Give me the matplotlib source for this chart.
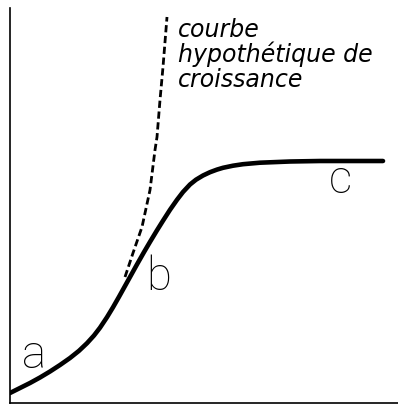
import matplotlib
matplotlib.use("Agg")
import matplotlib.pyplot as plt

# courbe reelle (logistique)
temps = [0, 10, 20, 30, 40, 50, 60, 69, 77, 84, 90, 97, 103, 109, 115, 121,
         127, 134, 140, 147, 153, 160, 167, 173, 180, 186, 193, 200, 207,
         213, 223, 233, 250, 280, 310, 340, 373]
effectif = [10, 15, 20, 25.5, 31.5, 38, 45, 52.2, 59.8, 67.5, 75.3, 85.8,
            95.7, 106.2, 117, 127.8, 138.6, 150.9, 161.1, 172.7, 182.3,
            193.2, 203.2, 211, 218.5, 223.3, 227.5, 230.8, 233.4, 235.2,
            237.3, 238.8, 240.3, 241.5, 242, 242, 242]

# courbe hypothetique (exponentielle)
temps_hyp = [115, 123, 132, 140, 145, 147, 150, 153, 157]
effectif_hyp = [126, 150, 176, 213, 253, 266, 303, 336, 386]

lettres = ["a", "b", "c"]
pos_lettres = [(12, 35), (136, 113), (319, 210)]

legende = ["courbe", "hypothétique de", "croissance"]

fig = plt.figure(figsize=(3.98, 4.07), dpi=100)
ax = fig.add_axes([10 / 398, 4 / 407, 388 / 398, 395 / 407])

ax.plot(temps, effectif, color="black", lw=3.3, solid_capstyle="round",
        solid_joinstyle="round")
ax.plot(temps_hyp, effectif_hyp, color="black", lw=2.0, dashes=(2.6, 1.3))

for txt, (x, y) in zip(lettres, pos_lettres):
    ax.text(x, y, txt, fontsize=33, fontweight="light",
            family=["Roboto", "DejaVu Sans"], color="black",
            ha="left", va="baseline")

for i, ligne in enumerate(legende):
    ax.text(168, 366 - i * 25, ligne, fontsize=17, style="italic",
            ha="left", va="baseline")

ax.set_xlim(0, 388)
ax.set_ylim(0, 395)
ax.spines["top"].set_visible(False)
ax.spines["right"].set_visible(False)
ax.spines["left"].set_linewidth(1.2)
ax.spines["bottom"].set_linewidth(1.2)
ax.set_xticks([])
ax.set_yticks([])

fig.savefig("out.png", dpi=100)
